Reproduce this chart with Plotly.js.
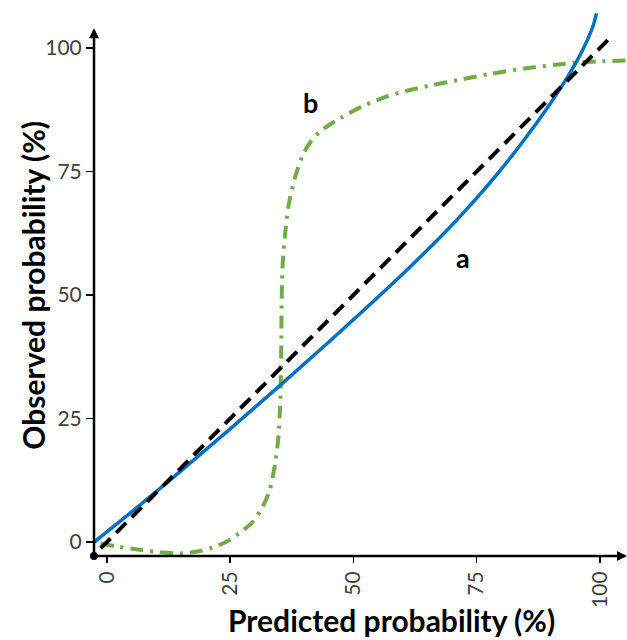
<!DOCTYPE html>
<html>
<head>
<meta charset="utf-8">
<script src="https://cdn.plot.ly/plotly-3.0.1.min.js"></script>
<style>html,body{margin:0;padding:0;background:#fff;}#chart{width:627px;height:640px;}</style>
</head>
<body>
<div id="chart"></div>
<script>
// Curve a (blue, solid)
const curveAX = [-2.6, 5, 15, 25, 35, 45, 55, 62, 68, 74, 80, 85, 89, 92.6, 95.3, 97.5, 98.7, 99.3];
const curveAY = [0, 6.1, 14.4, 22.9, 31.6, 40.5, 49.6, 56.2, 62.1, 68.5, 75.5, 81.9, 87.4, 92.8, 97.3, 101.7, 104.7, 107];
// Curve b (green, dash-dot)
const curveBX = [-1.3, 2, 5.5, 10, 15, 19, 22, 24.5, 27.5, 29.5, 31.5, 33, 34.2, 34.8, 35.1, 35.3, 35.4, 35.6, 36.2, 37, 38.3, 39.8, 41.5, 43.6, 47.3, 52, 56.8, 61, 66, 71.6, 78, 85, 91, 96, 100, 105.5];
const curveBY = [-0.3, -0.9, -1.4, -2.0, -2.3, -1.8, -0.9, 0.2, 2.3, 4.0, 7.0, 10.5, 16.5, 21.5, 27, 35, 45, 55.5, 63, 69, 74.3, 78.5, 81.3, 83.4, 85.8, 88.3, 90.2, 91.4, 92.5, 93.6, 94.8, 95.9, 96.6, 97.1, 97.3, 97.5];
// Perfect calibration diagonal (black dashed)
const diagX = [-1.3, 102.6];
const diagY = [-1.3, 102.6];
// Axis ticks
const tickVals = [0, 25, 50, 75, 100];
const tickText = ['0', '25', '50', '75', '100'];
// Axis extents
const xRange = [-2.64, 105.5];
const yRange = [-2.83, 107.7];
const yArrowTop = 104;
// Titles
const xTitle = 'Predicted probability (%)';
const yTitle = 'Observed probability (%)';
// Curve labels
const labelText = ['a', 'b'];
const labelX = [72.2, 41.2];
const labelY = [57.5, 88.9];

const FONT = 'Lato, Arial, sans-serif';

const traces = [
  {x: curveBX, y: curveBY, mode: 'lines', line: {color: '#70AD47', width: 4, dash: '13px,7px,3px,7px', shape: 'spline', smoothing: 0.8}, hoverinfo: 'skip'},
  {x: curveAX, y: curveAY, mode: 'lines', line: {color: '#0070C0', width: 3.5, shape: 'spline', smoothing: 1}, hoverinfo: 'skip'},
  {x: diagX, y: diagY, mode: 'lines', line: {color: '#000000', width: 4, dash: '14px,8px'}, hoverinfo: 'skip'},
  {x: [xRange[0]], y: [yRange[0]], mode: 'markers', marker: {color: '#000', size: 8}, cliponaxis: false, hoverinfo: 'skip'}
];

const annotations = [
  {x: xRange[0], y: yArrowTop, ax: xRange[0], ay: yRange[0], xref: 'x', yref: 'y', axref: 'x', ayref: 'y', text: '', showarrow: true, arrowhead: 2, arrowsize: 0.8, arrowwidth: 2.5, arrowcolor: '#000', standoff: 0},
  {x: xRange[1], y: yRange[0], ax: xRange[0], ay: yRange[0], xref: 'x', yref: 'y', axref: 'x', ayref: 'y', text: '', showarrow: true, arrowhead: 2, arrowsize: 0.8, arrowwidth: 2.5, arrowcolor: '#000', standoff: 0},
  {x: 0.559, y: -0.117, xref: 'paper', yref: 'paper', xanchor: 'center', yanchor: 'middle', text: '<b>' + xTitle + '</b>', showarrow: false, font: {family: FONT, size: 30, color: '#000'}},
  {x: -0.1135, y: 0.496, xref: 'paper', yref: 'paper', xanchor: 'center', yanchor: 'middle', textangle: -90, text: '<b>' + yTitle + '</b>', showarrow: false, font: {family: FONT, size: 30, color: '#000'}}
];
for (let i = 0; i < labelText.length; i++) {
  annotations.push({x: labelX[i], y: labelY[i], xref: 'x', yref: 'y', text: '<b>' + labelText[i] + '</b>', showarrow: false, font: {family: FONT, size: 27, color: '#000'}});
}

const layout = {
  width: 627, height: 640,
  margin: {l: 94, r: 0, t: 10, b: 84},
  paper_bgcolor: '#fff', plot_bgcolor: '#fff',
  showlegend: false,
  xaxis: {
    range: xRange, showgrid: false, zeroline: false, showline: false,
    tickmode: 'array', tickvals: tickVals, ticktext: tickText, tickangle: -90,
    ticks: 'outside', ticklen: 6, tickwidth: 1.5, tickcolor: '#000',
    tickfont: {family: FONT, size: 21, color: '#404040'},
    automargin: false
  },
  yaxis: {
    range: yRange, showgrid: false, zeroline: false, showline: false,
    tickmode: 'array', tickvals: tickVals, ticktext: tickText,
    ticks: 'outside', ticklen: 7, tickwidth: 1.5, tickcolor: '#000',
    tickfont: {family: FONT, size: 21, color: '#404040'},
    automargin: false
  },
  annotations: annotations
};

Plotly.newPlot('chart', traces, layout, {displayModeBar: false, staticPlot: true});
</script>
</body>
</html>
